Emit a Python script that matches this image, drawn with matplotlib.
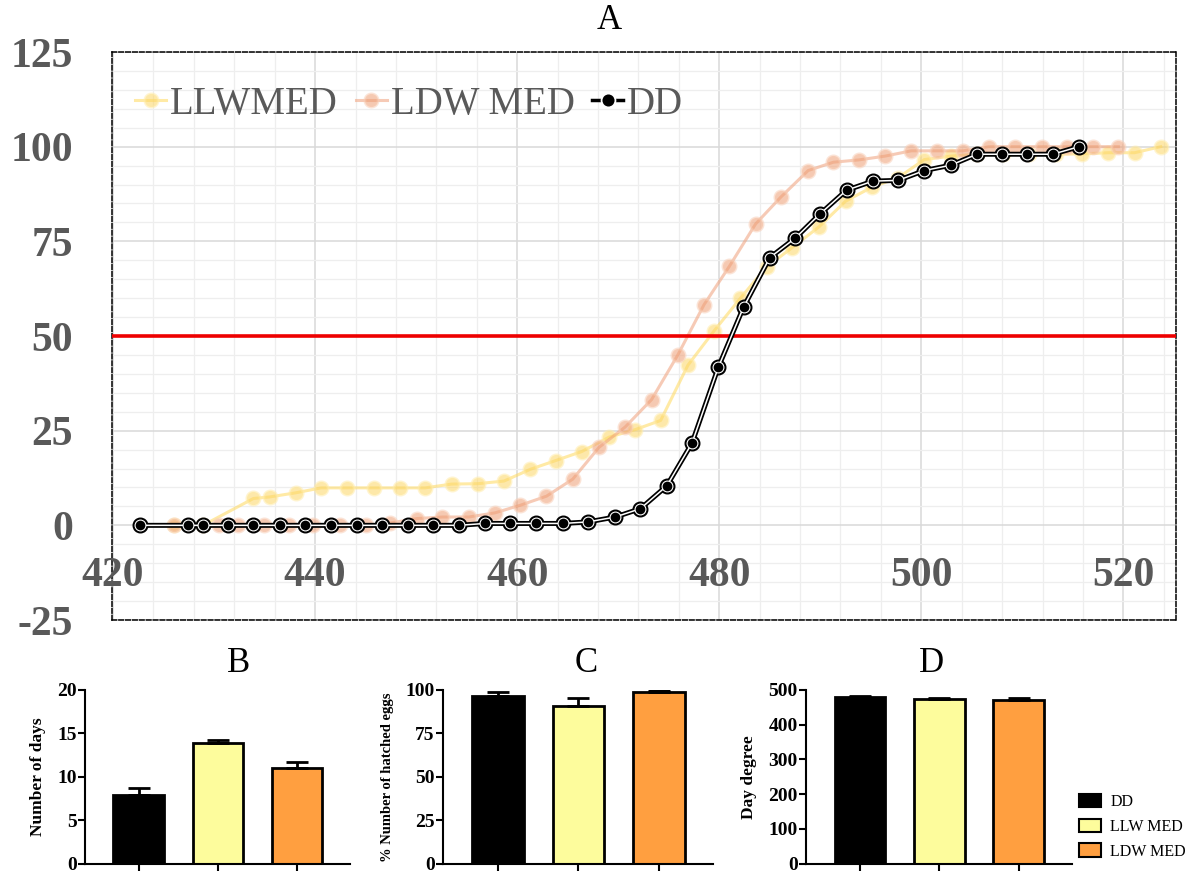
import matplotlib
matplotlib.use("Agg")
import matplotlib.pyplot as plt
from matplotlib.patches import Patch
from matplotlib.ticker import MultipleLocator

plt.rcParams["axes.unicode_minus"] = False
SERIF = "Liberation Serif"
GREY = "#595959"

# --- panel A: cumulative hatching (%) against day degree ---
llw_x = [426.0, 428.9, 433.9, 435.5, 438.1, 440.6, 443.2, 445.8, 448.4, 450.9,
         453.5, 456.1, 458.7, 461.3, 463.8, 466.4, 469.1, 471.7, 474.2, 476.9,
         479.5, 482.1, 484.7, 487.2, 489.9, 492.5, 495.1, 497.7, 500.3, 502.9,
         505.5, 508.1, 510.7, 513.3, 515.9, 518.5, 521.1, 523.7]
llw_y = [0, 0, 7.1, 7.5, 8.6, 9.9, 9.9, 9.9, 9.9, 9.9,
         10.9, 11.0, 11.7, 14.8, 17.1, 19.5, 23.3, 25.3, 27.7, 42.3,
         51.4, 60.0, 68.3, 73.3, 78.9, 85.6, 89.3, 91.8, 96.6, 97.5,
         98.0, 98.0, 98.0, 98.0, 98.1, 98.4, 98.4, 100]

ldw_x = [426.0, 430.5, 432.4, 434.9, 437.4, 439.8, 442.5, 445.0, 447.4, 450.1,
         452.6, 455.2, 457.8, 460.3, 462.9, 465.5, 468.1, 470.7, 473.3, 475.9,
         478.5, 481.0, 483.6, 486.1, 488.8, 491.3, 493.8, 496.4, 499.0, 501.6,
         504.1, 506.7, 509.3, 511.9, 514.4, 517.0, 519.5]
ldw_y = [0, 0, 0, 0, 0, 0, 0, 0, 0.6, 1.8,
         2.2, 2.2, 3.3, 5.3, 7.7, 12.2, 20.6, 26.0, 33.2, 45.0,
         58.3, 68.4, 79.6, 86.7, 93.7, 95.9, 96.5, 97.5, 98.9, 98.9,
         98.9, 100, 100, 100, 100, 100, 100]

dd_x = [422.7, 427.4, 428.9, 431.4, 433.9, 436.5, 439.0, 441.6, 444.1, 446.6,
        449.2, 451.7, 454.2, 456.8, 459.3, 461.9, 464.5, 467.0, 469.7, 472.2,
        474.8, 477.3, 479.9, 482.4, 485.0, 487.5, 490.0, 492.6, 495.2, 497.7,
        500.3, 502.9, 505.5, 508.0, 510.5, 513.0, 515.6]
dd_y = [0, 0, 0, 0, 0, 0, 0, 0, 0, 0,
        0, 0, 0, 0.5, 0.5, 0.5, 0.5, 0.9, 2.2, 4.4,
        10.4, 21.7, 41.7, 57.6, 70.7, 75.8, 82.3, 88.5, 90.9, 91.1,
        93.7, 95.1, 98.0, 98.0, 98.0, 98.0, 100]

x_ticks = [420, 440, 460, 480, 500, 520]
y_ticks = [-25, 0, 25, 50, 75, 100, 125]

# --- panels B, C, D ---
groups = ["DD", "LLW MED", "LDW MED"]
bar_colors = ["#000000", "#FDFC9C", "#FF9F40"]
days_mean = [7.9, 13.9, 11.0]
days_err = [0.8, 0.35, 0.7]
hatched_mean = [96.5, 90.5, 99.0]
hatched_err = [2.3, 5.1, 0.7]
degree_mean = [479, 474, 472]
degree_err = [4, 4, 4]

fig = plt.figure(figsize=(11.93, 8.74), dpi=100)

ax = fig.add_axes([0.0939, 0.2906, 0.8918, 0.6499])
ax.set_xlim(419.9, 525.2)
ax.set_ylim(-25, 125)
ax.xaxis.set_major_locator(MultipleLocator(20))
ax.xaxis.set_minor_locator(MultipleLocator(4))
ax.set_yticks(y_ticks)
ax.yaxis.set_minor_locator(MultipleLocator(5))
ax.grid(which="major", color="#D9D9D9", lw=1.1, zorder=0)
ax.grid(which="minor", color="#EEEEEE", lw=0.9, zorder=0)
ax.set_axisbelow(True)
ax.tick_params(which="both", length=0)
ax.tick_params(axis="x", labelbottom=False)
ax.tick_params(axis="y", pad=28)
for lab in ax.get_yticklabels():
    lab.set_fontfamily(SERIF)
    lab.set_fontweight("bold")
    lab.set_fontsize(30)
    lab.set_color(GREY)
for t in x_ticks:
    ax.text(t, -13.5, str(t), ha="center", va="center", fontsize=30,
            fontweight="bold", color=GREY, family=SERIF)
for s in ax.spines.values():
    s.set_linestyle((0, (3, 1.5)))
    s.set_linewidth(1.1)
    s.set_color("black")

ax.axhline(50, color="#EE0000", lw=2.6, zorder=3)

ax.plot(llw_x, llw_y, color="#FFD95C", alpha=0.55, lw=2.2, marker="o", ms=9.5,
        mfc="#FCD665", mec="#FFEBA8", mew=2, label="LLWMED", zorder=2)
ax.plot(ldw_x, ldw_y, color="#F0A07A", alpha=0.55, lw=2.2, marker="o", ms=9.5,
        mfc="#EE9E74", mec="#F8CDB5", mew=2, label="LDW MED", zorder=2.5)
# DD drawn as a double line with ringed markers
ax.plot(dd_x, dd_y, color="black", lw=3.6, marker="o", ms=10.5,
        mfc="black", mec="black", mew=1, zorder=4)
ax.plot(dd_x, dd_y, color="white", lw=1.1, marker="o", ms=8.6,
        mfc="white", mec="white", mew=0, zorder=4.1)
ax.plot(dd_x, dd_y, color="black", lw=0, marker="o", ms=7,
        mfc="black", mec="black", mew=0, zorder=4.2)

h, l = ax.get_legend_handles_labels()
dd_handle, = ax.plot([], [], color="black", lw=2.5, marker="o", ms=10,
                     mfc="black", mec="white", mew=1.3)
leg = ax.legend(h + [dd_handle], l + ["DD"], loc="upper left", ncol=3,
                frameon=False, prop={"family": SERIF, "size": 28},
                handlelength=0.8, handletextpad=0.1, columnspacing=0.45,
                bbox_to_anchor=(0.0, 0.982), borderaxespad=0.2)
for txt in leg.get_texts():
    txt.set_color(GREY)

fig.text(0.511, 0.977, "A", ha="center", va="center", fontsize=25, family=SERIF)


def bar_panel(rect, means, errs, ymax, step, ylabel, label_size, title, title_x):
    bx = fig.add_axes(rect)
    pos = list(range(len(means)))
    bx.bar(pos, means, width=0.64, color=bar_colors, edgecolor="black",
           linewidth=2, zorder=2)
    bx.errorbar(pos, means, yerr=[[0] * len(errs), errs], fmt="none",
                ecolor="black", elinewidth=2, capsize=8, capthick=2, zorder=3)
    bx.set_xlim(-0.68, 2.67)
    bx.set_ylim(0, ymax)
    bx.set_yticks(range(0, ymax + 1, step))
    bx.set_xticks(pos)
    bx.set_xticklabels([])
    bx.spines["top"].set_visible(False)
    bx.spines["right"].set_visible(False)
    for s in ("left", "bottom"):
        bx.spines[s].set_linewidth(1.5)
    bx.tick_params(length=5, width=1.5, pad=1)
    for lab in bx.get_yticklabels():
        lab.set_fontfamily(SERIF)
        lab.set_fontweight("bold")
        lab.set_fontsize(14)
    bx.set_ylabel(ylabel, family=SERIF, fontweight="bold", fontsize=label_size,
                  labelpad=8)
    fig.text(title_x, 0.241, title, ha="center", va="center", fontsize=25,
             family=SERIF)
    return bx


bar_panel([0.0712, 0.0118, 0.2221, 0.1988], days_mean, days_err, 20, 5,
          "Number of days", 12.5, "B", 0.2)
bar_panel([0.3713, 0.0118, 0.2263, 0.1988], hatched_mean, hatched_err, 100, 25,
          "% Number of hatched eggs", 10.5, "C", 0.491)
bar_panel([0.6756, 0.0118, 0.2230, 0.1988], degree_mean, degree_err, 500, 100,
          "Day degree", 12.5, "D", 0.781)

handles = [Patch(facecolor=c, edgecolor="black", linewidth=1.5) for c in bar_colors]
fig.legend(handles, groups, loc="lower left", bbox_to_anchor=(0.892, 0.0),
           frameon=False, prop={"family": SERIF, "size": 11.5},
           handlelength=1.4, handleheight=0.9, labelspacing=0.55,
           handletextpad=0.6)

fig.savefig("out.png", dpi=100)
